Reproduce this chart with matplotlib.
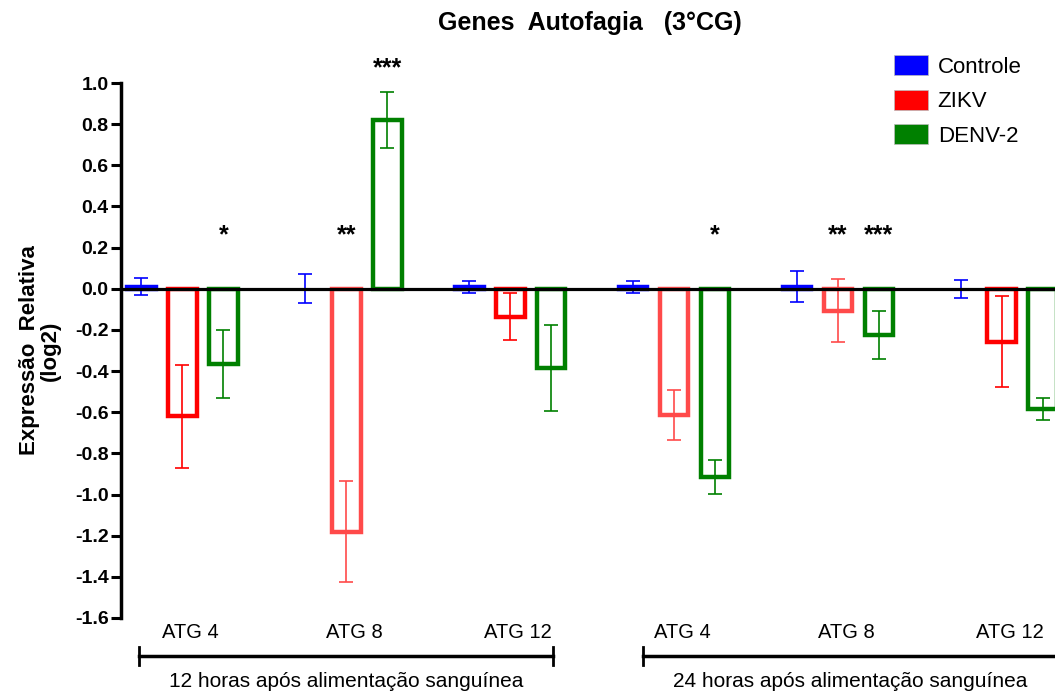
import numpy as np
import matplotlib.pyplot as plt
from matplotlib.patches import Patch

# dados
genes = ['ATG 4', 'ATG 8', 'ATG 12', 'ATG 4', 'ATG 8', 'ATG 12']
tempos = ['12 horas após alimentação sanguínea', '24 horas após alimentação sanguínea']
grupos = ['Controle', 'ZIKV', 'DENV-2']

controle = [0.01, 0.0, 0.01, 0.01, 0.01, 0.0]
controle_err = [0.04, 0.07, 0.03, 0.03, 0.076, 0.045]
zikv = [-0.62, -1.18, -0.135, -0.613, -0.106, -0.257]
zikv_err = [0.25, 0.245, 0.115, 0.12, 0.153, 0.22]
denv = [-0.365, 0.82, -0.385, -0.913, -0.225, -0.584]
denv_err = [0.165, 0.135, 0.21, 0.083, 0.115, 0.053]

# asteriscos de significancia: (gene, grupo, texto)
asteriscos = [(0, 2, '*'), (1, 1, '**'), (1, 2, '***'),
              (3, 2, '*'), (4, 1, '**'), (4, 2, '***')]

cor_azul = '#0000FF'
cor_verm = '#FF0000'
cor_verm_claro = '#FF4A4A'
cor_verde = '#008000'
# alguns ZIKV aparecem mais claros
zikv_claro = [False, True, False, True, True, False]

plt.rcParams['font.family'] = ['Liberation Sans', 'DejaVu Sans']

fig = plt.figure(figsize=(10.55, 6.91), dpi=100)
ax = fig.add_axes([121 / 1055, 1 - 618 / 691, 1 - 121 / 1055, 535 / 691])

largura = 0.7
n = len(genes)
base = np.arange(n) * 4.0

series = [(controle, controle_err, [cor_azul] * n),
          (zikv, zikv_err, [cor_verm_claro if c else cor_verm for c in zikv_claro]),
          (denv, denv_err, [cor_verde] * n)]

for j, (vals, errs, cores) in enumerate(series):
    xs = base + j
    for x, v, e, c in zip(xs, vals, errs, cores):
        if v != 0:
            ax.bar(x, v, width=largura, facecolor='white', edgecolor=c, linewidth=3.2, zorder=2)
        ax.errorbar(x, v, yerr=e, fmt='none', ecolor=c, elinewidth=1.2,
                    capsize=5, capthick=1.2, zorder=3)

ax.axhline(0, color='black', linewidth=2.3, zorder=4)

for g, s, txt in asteriscos:
    vals = series[s][0]
    errs = series[s][1]
    x = base[g] + s
    if vals[g] > 0.5:
        y = vals[g] + errs[g] + 0.06
    else:
        y = 0.2
    ax.text(x, y, txt, ha='center', va='bottom', fontsize=18, fontweight='bold',
            clip_on=False)

ax.set_xlim(-0.5, 22.3)
ax.set_ylim(-1.6, 1.0)
ticks = np.arange(-1.6, 1.01, 0.2)
ax.set_yticks(ticks)
ax.set_yticklabels(['%.1f' % t if abs(t) > 1e-9 else '0.0' for t in ticks])
ax.tick_params(axis='y', direction='out', length=7, width=2.2, labelsize=14, pad=2)
for lab in ax.get_yticklabels():
    lab.set_fontweight('bold')
ax.set_xticks([])
ax.spines['left'].set_linewidth(2.5)
for lado in ['top', 'right', 'bottom']:
    ax.spines[lado].set_visible(False)

ax.set_ylabel('Expressão  Relativa\n(log2)', fontsize=16, fontweight='bold', labelpad=10,
              linespacing=1.0)

fig.text(590 / 1055, 1 - 23 / 691, 'Genes  Autofagia   (3°CG)', ha='center', va='center',
         fontsize=18, fontweight='bold')

# rotulos dos genes e colchetes de tempo
trans = ax.get_xaxis_transform()
for i, gene in enumerate(genes):
    ax.text(base[i] + 1.2, -0.028, gene, transform=trans, ha='center', va='center',
            fontsize=14.5, clip_on=False)

limites = [(-0.05, 10.05), (12.25, 23.0)]
for (x0, x1), tempo in zip(limites, tempos):
    ax.plot([x0, x1], [-0.071, -0.071], transform=trans, color='black', lw=2.5, clip_on=False)
    for xx in (x0, x1):
        ax.plot([xx, xx], [-0.054, -0.088], transform=trans, color='black', lw=2, clip_on=False)
    ax.text(x0 + 5.05, -0.118, tempo, transform=trans, ha='center', va='center',
            fontsize=15, clip_on=False)

handles = [Patch(facecolor=c, edgecolor='#bbbbbb', linewidth=0.5)
           for c in (cor_azul, cor_verm, cor_verde)]
fig.legend(handles, grupos, loc='upper left', bbox_to_anchor=(881 / 1055, 1 - 42 / 691),
           frameon=False, fontsize=16, handlelength=1.5, handleheight=1.0,
           labelspacing=0.53, handletextpad=0.45, borderpad=0.1)

fig.savefig('out.png', dpi=100)
